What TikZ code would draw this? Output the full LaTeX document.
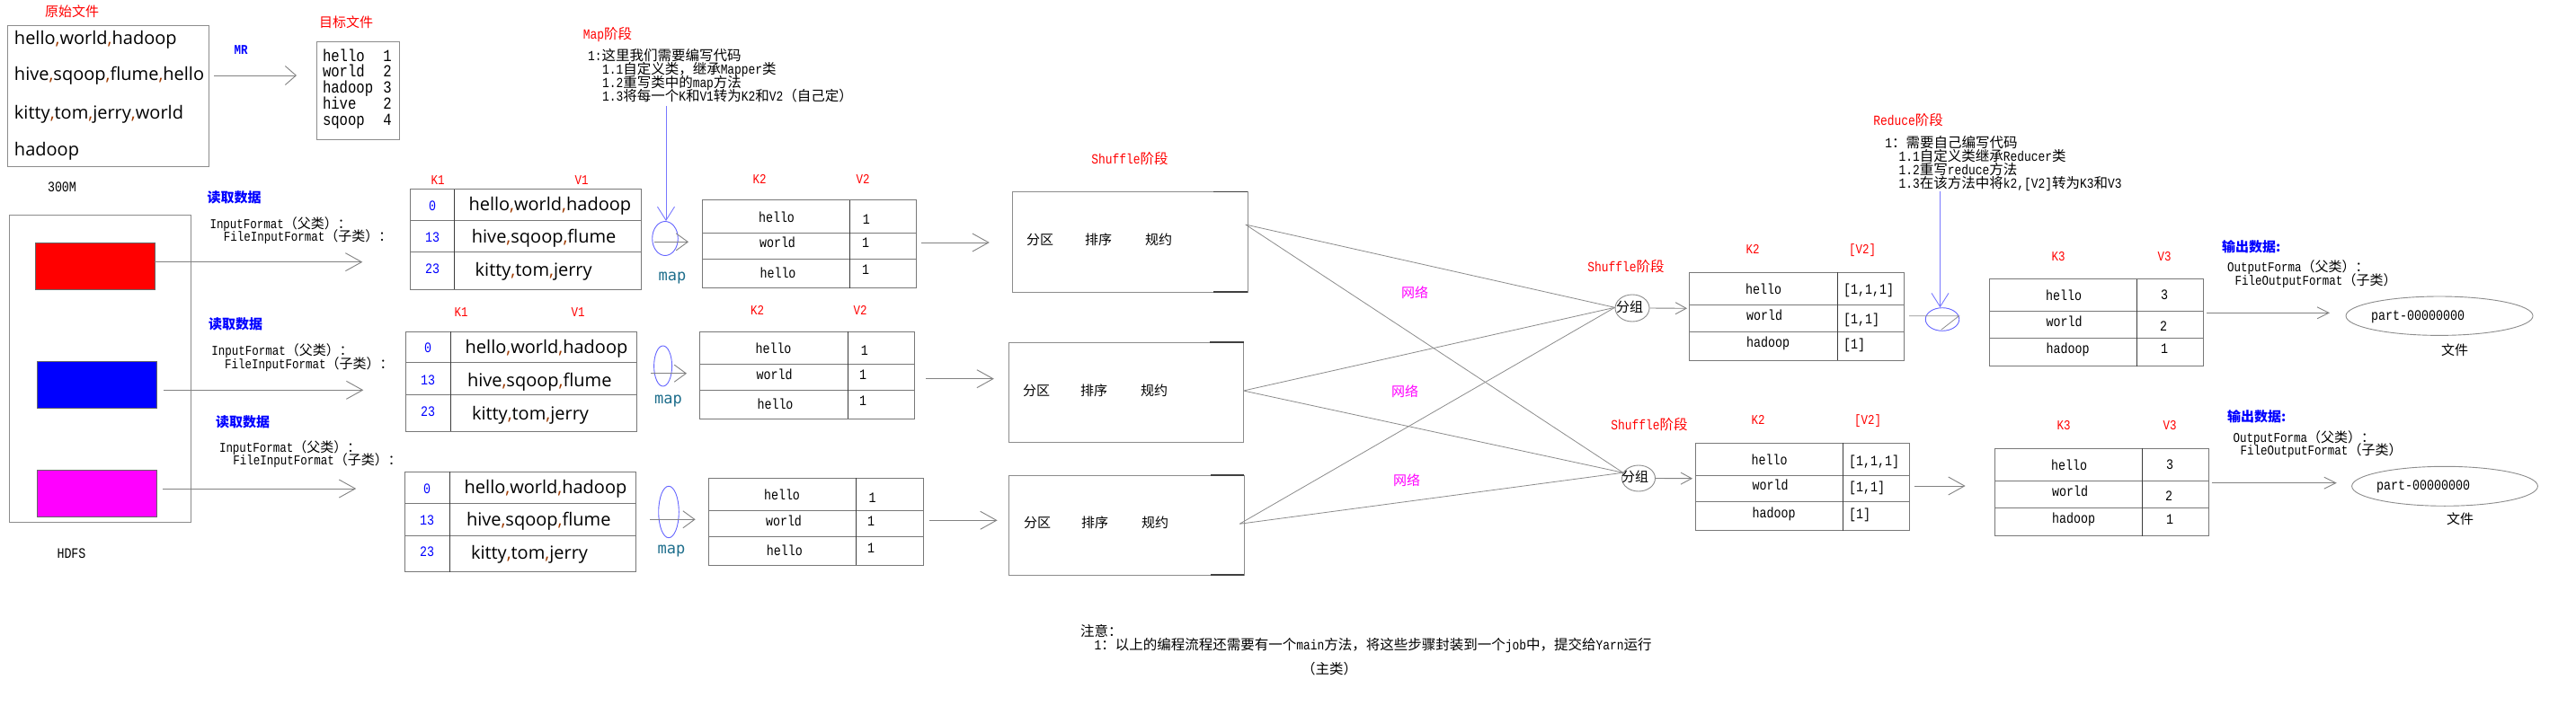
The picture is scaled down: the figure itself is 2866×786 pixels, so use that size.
\documentclass[tikz,border=0pt]{standalone}
\usepackage{fontspec}
\setmainfont{Noto Sans CJK SC}
\newfontfamily\mono[FakeStretch=0.833]{Liberation Mono}
\newfontfamily\sansf{Open Sans}
\newfontfamily\mapf{DejaVu Sans Mono}
\usetikzlibrary{arrows.meta,shapes.geometric,fit}
\definecolor{lred}{RGB}{255,0,0}
\definecolor{lblue}{RGB}{0,0,255}
\definecolor{lmag}{RGB}{255,0,255}
\definecolor{boxgray}{RGB}{140,140,140}
\definecolor{tabgray}{RGB}{120,120,120}
\definecolor{coldark}{RGB}{60,60,60}
\definecolor{arrgray}{RGB}{130,130,130}
\definecolor{netgray}{RGB}{140,140,140}
\definecolor{lineblue}{RGB}{120,120,255}
\definecolor{eblue}{RGB}{100,100,255}
\definecolor{mapteal}{RGB}{30,110,140}
\definecolor{commac}{RGB}{160,60,0}
\newcommand\m[1]{{\mono #1}}
\newcommand\cm{{\color{commac},}}
\newcommand\fs[1]{\fontsize{#1}{#1}\selectfont}
\newcommand\mystrut{\vrule width 0pt height 1em depth 0.3em\relax}
\newcommand\tabl[8]{%
  \node[tbox, fit={(#2,#3) (#4,#5)}] (#1) {};
  \draw[tsep] (#2,#7) -- (#4,#7) (#2,#8) -- (#4,#8);
  \draw[csep] (#6,#3) -- (#6,#5);
}
\tikzset{
  lbl/.style={inner sep=0pt, outer sep=0pt, execute at begin node=\mystrut},
  gbox/.style={draw=boxgray, line width=1pt, inner sep=0pt},
  tbox/.style={draw=tabgray, line width=1pt, inner sep=0pt},
  tsep/.style={draw=tabgray, line width=1pt},
  csep/.style={draw=coldark, line width=0.9pt},
  arrbig/.style={draw=arrgray, line width=0.9pt, -{Straight Barb[length=18pt,width=20pt]}},
  arrmr/.style={draw=arrgray, line width=0.9pt, -{Straight Barb[length=12pt,width=21pt]}},
  arrsm/.style={draw=arrgray, line width=0.9pt, -{Straight Barb[length=12pt,width=13pt]}},
  arrout/.style={draw=arrgray, line width=0.9pt, -{Straight Barb[length=13pt,width=13pt]}},
  arrmap/.style={draw=arrgray, line width=0.9pt, -{Straight Barb[length=13pt,width=19pt]}},
  netl/.style={draw=netgray, line width=0.8pt},
  bluel/.style={draw=lineblue, line width=0.9pt, -{Straight Barb[length=15pt,width=19pt]}},
  bell/.style={ellipse, draw=eblue, line width=0.9pt, inner sep=0pt},
  gell/.style={ellipse, draw=netgray, line width=0.9pt, inner sep=0pt},
  redl/.style={lbl, text=lred, font=\mono\fs{15}},
  cjk/.style={lbl, font=\fs{15}},
  wl/.style={lbl, anchor=west, font=\mono\fs{16}},
  vl/.style={lbl, font=\mono\fs{16}},
  darkseg/.style={draw=black!75, line width=1.2pt},
}
\begin{document}
\begin{tikzpicture}[x=1pt,y=-1pt]
\useasboundingbox[fill=white] (0,0) rectangle (2866,786);

% ---------------- source and target files ----------------
\node[cjk, text=lred] (tsrc) at (80,13) {原始文件};
\node[gbox, fit={(8,29) (232,186)}] (src) {};
\begin{scope}[every node/.append style={lbl, anchor=west, font=\sansf\fs{20}}]
\node (src1) at (16,43) {hello\cm world\cm hadoop};
\node (src2) at (16,83) {hive\cm sqoop\cm flume\cm hello};
\node (src3) at (16,126) {kitty\cm tom\cm jerry\cm world};
\node (src4) at (16,167) {hadoop};
\end{scope}
\node[lbl, text=lblue, font=\mono\bfseries\fs{15}] (mr) at (268,55) {MR};
\coordinate (mrs) at (238,84);
\coordinate (mre) at (330,84);
\draw[arrmr] (mrs) -- (mre);
\node[cjk, text=lred] (ttgt) at (385,25) {目标文件};
\node[gbox, fit={(352,47) (444,156)}] (tgt) {};
\begin{scope}[every node/.append style={lbl, font=\mono\fs{18.75}}]
\node[anchor=west] (tw1) at (359,61.7) {hello};
\node[anchor=west] (tw2) at (359,79.3) {world};
\node[anchor=west] (tw3) at (359,97.3) {hadoop};
\node[anchor=west] (tw4) at (359,115) {hive};
\node[anchor=west] (tw5) at (359,132.7) {sqoop};
\node (tn1) at (431,61.7) {1};
\node (tn2) at (431,79.3) {2};
\node (tn3) at (431,97.3) {3};
\node (tn4) at (431,115) {2};
\node (tn5) at (431,132.7) {4};
\end{scope}

% ---------------- HDFS ----------------
\node[vl] (m300) at (69,207.5) {300M};
\node[gbox, fit={(10.5,240) (212.4,581.7)}] (hdfs) {};
\node[draw=black!60, fill=lred, inner sep=0pt, fit={(39.2,270) (172.2,321.7)}] (blk1) {};
\node[draw=black!60, fill=lblue, inner sep=0pt, fit={(41.6,402.3) (173.7,454)}] (blk2) {};
\node[draw=black!60, fill=lmag, inner sep=0pt, fit={(41.6,523.3) (173.7,574.7)}] (blk3) {};
\node[vl] (thdfs) at (79.5,616) {HDFS};
\coordinate (h1s) at (172.2,291.7); \coordinate (h1e) at (403.3,291.7);
\coordinate (h2s) at (181.8,434.3); \coordinate (h2e) at (404.3,434.3);
\coordinate (h3s) at (180.9,544);   \coordinate (h3e) at (396.2,544);
\draw[arrbig] (h1s) -- (h1e);
\draw[arrbig] (h2s) -- (h2e);
\draw[arrbig] (h3s) -- (h3e);

\begin{scope}[every node/.append style={lbl, text=lblue, font=\bfseries\fs{15}}]
\node (rd1) at (260.5,220.5) {读取数据};
\node (rd2) at (262,361.7) {读取数据};
\node (rd3) at (270,470) {读取数据};
\end{scope}
\begin{scope}[every node/.append style={cjk, anchor=west}]
\node (if1) at (233.5,249) {\m{InputFormat}（父类）：};
\node (fif1) at (248.8,263.3) {\m{FileInputFormat}（子类）：};
\node (if2) at (235.4,390) {\m{InputFormat}（父类）：};
\node (fif2) at (250.2,405) {\m{FileInputFormat}（子类）：};
\node (if3) at (244,498.3) {\m{InputFormat}（父类）：};
\node (fif3) at (259.3,512.7) {\m{FileInputFormat}（子类）：};
\end{scope}

% ---------------- K1 V1 tables ----------------
\node[redl] (k1a) at (487,200) {K1};
\node[redl] (v1a) at (647,200) {V1};
\node[redl] (k1b) at (513,347.7) {K1};
\node[redl] (v1b) at (643,347.7) {V1};
\tabl{kv1}{456}{210.7}{713}{322.3}{505.7}{245.3}{281}
\tabl{kv2}{451.2}{369}{708.1}{480}{501}{403.3}{439.3}
\tabl{kv3}{450.7}{525}{707.2}{636.7}{500}{560.7}{596.7}
\begin{scope}[every node/.append style={vl, text=lblue}]
\node (kk11) at (481,229.3) {0};
\node (kk12) at (481,264) {13};
\node (kk13) at (481,299.3) {23};
\node (kk21) at (476,387.3) {0};
\node (kk22) at (476,423.3) {13};
\node (kk23) at (476,457.7) {23};
\node (kk31) at (475,544) {0};
\node (kk32) at (475,579.3) {13};
\node (kk33) at (475,614.3) {23};
\end{scope}
\begin{scope}[every node/.append style={lbl, anchor=west, font=\sansf\fs{20}}]
\node (kv11) at (521.5,227.3) {hello\cm world\cm hadoop};
\node (kv12) at (524.9,264) {hive\cm sqoop\cm flume};
\node (kv13) at (528.7,301) {kitty\cm tom\cm jerry};
\node (kv21) at (517.7,386.7) {hello\cm world\cm hadoop};
\node (kv22) at (520,423) {hive\cm sqoop\cm flume};
\node (kv23) at (525,460) {kitty\cm tom\cm jerry};
\node (kv31) at (516.7,542.7) {hello\cm world\cm hadoop};
\node (kv32) at (519,578) {hive\cm sqoop\cm flume};
\node (kv33) at (524,615) {kitty\cm tom\cm jerry};
\end{scope}

% ---------------- Map stage ----------------
\node[lbl, text=lred, font=\fs{15.5}] (tmap) at (676,38) {\m{Map}阶段};
\begin{scope}[every node/.append style={lbl, anchor=west, font=\fs{15.5}}]
\node (mp1) at (654,62) {\m{1:}这里我们需要编写代码};
\node (mp2) at (670,77) {\m{1.1}自定义类，继承\m{Mapper}类};
\node (mp3) at (670,92) {\m{1.2}重写类中的\m{map}方法};
\node (mp4) at (670,107) {\m{1.3}将每一个\m{K}和\m{V1}转为\m{K2}和\m{V2}（自己定）};
\end{scope}
\node[bell, minimum width=28.6, minimum height=38] (me1) at (740,265.5) {};
\node[bell, minimum width=20, minimum height=45] (me2) at (737.6,407.5) {};
\node[bell, minimum width=22.6, minimum height=57.4] (me3) at (744,570) {};
\coordinate (mpl) at (741,118);
\draw[bluel] (mpl) -- (mpl |- me1.north);
\coordinate (ma1s) at (727.7,269.3); \coordinate (ma1e) at (766,269.3);
\coordinate (ma2s) at (723.8,415.7); \coordinate (ma2e) at (764,415.7);
\coordinate (ma3s) at (723,578.3);   \coordinate (ma3e) at (773.6,578.3);
\draw[arrmap] (ma1s) -- (ma1e);
\draw[arrmap] (ma2s) -- (ma2e);
\draw[arrmap] (ma3s) -- (ma3e);
\begin{scope}[every node/.append style={lbl, text=mapteal, font=\mapf\fs{17}}]
\node (mtx1) at (748,307) {map};
\node (mtx2) at (743.5,444) {map};
\node (mtx3) at (747,611) {map};
\end{scope}

\node[redl] (k2a) at (845,199) {K2};
\node[redl] (v2a) at (960,199) {V2};
\node[redl] (k2b) at (842.5,345) {K2};
\node[redl] (v2b) at (957,345) {V2};
\tabl{mtab1}{781}{222.7}{1019.7}{320.7}{945.8}{259.3}{288.3}
\tabl{mtab2}{778.5}{369}{1017.4}{466}{943}{405.7}{434.3}
\tabl{mtab3}{788}{532.3}{1027}{629.3}{952.3}{568.3}{597.3}
\node[wl] (mw11) at (844,241.7) {hello};
\node[wl] (mw12) at (845,270) {world};
\node[wl] (mw13) at (845.5,304) {hello};
\node[wl] (mw21) at (840.5,387.7) {hello};
\node[wl] (mw22) at (841.7,416.7) {world};
\node[wl] (mw23) at (842.5,450) {hello};
\node[wl] (mw31) at (850,551) {hello};
\node[wl] (mw32) at (852,580) {world};
\node[wl] (mw33) at (852.8,613.3) {hello};
\node[vl] (mv11) at (963.8,244.3) {1};
\node[vl] (mv12) at (963,270) {1};
\node[vl] (mv13) at (963,300) {1};
\node[vl] (mv21) at (961.9,390) {1};
\node[vl] (mv22) at (960,416.7) {1};
\node[vl] (mv23) at (960,446) {1};
\node[vl] (mv31) at (970.7,554.3) {1};
\node[vl] (mv32) at (969,580) {1};
\node[vl] (mv33) at (969,610) {1};

% ---------------- Shuffle boxes ----------------
\node[lbl, text=lred, font=\fs{15.5}] (tsh) at (1257,177) {\m{Shuffle}阶段};
\node[gbox, fit={(1126.8,213.3) (1388,325)}] (sh1) {};
\node[gbox, fit={(1122.3,381) (1383.5,492.3)}] (sh2) {};
\node[gbox, fit={(1122.3,529) (1384.4,640)}] (sh3) {};
\draw[darkseg] (1350,213.3) -- (1388,213.3) (1350,325) -- (1388,325);
\draw[darkseg] (1345.5,381) -- (1383.5,381);
\draw[darkseg] (1346.7,529) -- (1384.4,529) (1346.7,640) -- (1384.4,640);
\coordinate (sa1s) at (1025.4,270);   \coordinate (sa1e) at (1100.8,270);
\coordinate (sa2s) at (1030,421.7);   \coordinate (sa2e) at (1105.8,421.7);
\coordinate (sa3s) at (1033.8,579.3); \coordinate (sa3e) at (1109.6,579.3);
\draw[arrbig] (sa1s) -- (sa1e);
\draw[arrbig] (sa2s) -- (sa2e);
\draw[arrbig] (sa3s) -- (sa3e);
\begin{scope}[every node/.append style={cjk}]
\node (p11) at (1157,267.3) {分区};
\node (p12) at (1222,267.3) {排序};
\node (p13) at (1289,267.3) {规约};
\node (p21) at (1153,435) {分区};
\node (p22) at (1217,435) {排序};
\node (p23) at (1284,435) {规约};
\node (p31) at (1154,582.7) {分区};
\node (p32) at (1218,582.7) {排序};
\node (p33) at (1285,582.7) {规约};
\end{scope}

% ---------------- network ----------------
\node[gell, minimum width=38, minimum height=30] (g1) at (1816,343) {};
\node[gell, minimum width=37, minimum height=29] (g2) at (1823,532.5) {};
\node[cjk] (g1t) at (1813,342) {分组};
\node[cjk] (g2t) at (1819,531.7) {分组};
\coordinate (n1) at (1385.7,250);
\coordinate (n2) at (1383.5,435);
\coordinate (n3) at (1379,583.3);
\draw[netl] (n1) -- (g1.178) (n1) -- (g2.160);
\draw[netl] (n2) -- (g1.178) (n2) -- (g2.160);
\draw[netl] (n3) -- (g1.178) (n3) -- (g2.160);
\begin{scope}[every node/.append style={cjk, text=lmag}]
\node (nw1) at (1574,326.7) {网络};
\node (nw2) at (1563,436.7) {网络};
\node (nw3) at (1565,535) {网络};
\end{scope}

% ---------------- grouped tables ----------------
\node[lbl, text=lred, font=\fs{15.5}] (tsh2) at (1809,297) {\m{Shuffle}阶段};
\node[lbl, text=lred, font=\fs{15.5}] (tsh3) at (1835,473) {\m{Shuffle}阶段};
\coordinate (ga1e) at (1877,343.3);
\coordinate (ga2e) at (1883,532.7);
\draw[arrsm] (g1.east) -- (ga1e);
\draw[arrsm] (g2.east) -- (ga2e);
\node[redl] (k2c) at (1950,277) {K2};
\node[redl] (v2c) at (2072,277) {[V2]};
\node[redl] (k2d) at (1956,467) {K2};
\node[redl] (v2d) at (2078,467) {[V2]};
\tabl{gtab1}{1879.5}{303.3}{2118.3}{401}{2044.2}{339.3}{369}
\tabl{gtab2}{1886}{493.3}{2124}{590.7}{2050.4}{529.3}{558.7}
\node[wl] (gw11) at (1942,322.3) {hello};
\node[wl] (gw12) at (1943,350.7) {world};
\node[wl] (gw13) at (1943,381) {hadoop};
\node[wl] (gw21) at (1948.7,511.7) {hello};
\node[wl] (gw22) at (1949.5,540) {world};
\node[wl] (gw23) at (1949.5,570.7) {hadoop};
\node[wl] (gv11) at (2051,322.3) {[1,1,1]};
\node[wl] (gv12) at (2051,355) {[1,1]};
\node[wl] (gv13) at (2051,383) {[1]};
\node[wl] (gv21) at (2057,513.3) {[1,1,1]};
\node[wl] (gv22) at (2057,541.7) {[1,1]};
\node[wl] (gv23) at (2057,572) {[1]};

% ---------------- Reduce ----------------
\node[lbl, text=lred, font=\fs{15.5}] (tred) at (2123,134) {\m{Reduce}阶段};
\begin{scope}[every node/.append style={lbl, anchor=west, font=\fs{15.5}}]
\node (rp1) at (2097.3,159.3) {\m{1}：需要自己编写代码};
\node (rp2) at (2112.5,174) {\m{1.1}自定义类继承\m{Reducer}类};
\node (rp3) at (2112.5,189) {\m{1.2}重写\m{reduce}方法};
\node (rp4) at (2112.5,204) {\m{1.3}在该方法中将\m{k2,[V2]}转为\m{K3}和\m{V3}};
\end{scope}
\node[bell, minimum width=37.5, minimum height=25.6] (rc) at (2161,355.5) {};
\coordinate (rl) at (2158.5,212.7);
\draw[bluel] (rl) -- (rl |- rc.north);
\coordinate (rcs) at (2124,351.7);
\coordinate (rce) at (2179.5,351.7);
\draw[netl] (rcs) -- (rce) -- ++(-19.7,15.4);
\coordinate (ra2s) at (2129.5,541);
\coordinate (ra2e) at (2186.6,541);
\draw[arrbig] (ra2s) -- (ra2e);

\node[redl] (k3a) at (2290,285) {K3};
\node[redl] (v3a) at (2408,285) {V3};
\node[redl] (k3b) at (2296,473) {K3};
\node[redl] (v3b) at (2414,473) {V3};
\tabl{rtab1}{2213}{310.7}{2451.4}{407.7}{2377.4}{346.7}{376}
\tabl{rtab2}{2219.4}{499.3}{2457.3}{596.7}{2383.3}{535.7}{565}
\node[wl] (rw11) at (2276,329.3) {hello};
\node[wl] (rw12) at (2276.5,357.7) {world};
\node[wl] (rw13) at (2276.5,388.3) {hadoop};
\node[wl] (rw21) at (2282,518.3) {hello};
\node[wl] (rw22) at (2283,546.7) {world};
\node[wl] (rw23) at (2283,576.7) {hadoop};
\node[vl] (rv11) at (2408,327.7) {3};
\node[vl] (rv12) at (2407,363.3) {2};
\node[vl] (rv13) at (2408,388.3) {1};
\node[vl] (rv21) at (2414,516.7) {3};
\node[vl] (rv22) at (2413,552.3) {2};
\node[vl] (rv23) at (2414,578.3) {1};

% ---------------- output ----------------
\node[lbl, anchor=west, text=lblue, font=\bfseries\fs{15}] (out1) at (2472,275) {输出数据:};
\node[lbl, anchor=west, text=lblue, font=\bfseries\fs{15}] (out2) at (2478,464) {输出数据:};
\begin{scope}[every node/.append style={cjk, anchor=west}]
\node (of1) at (2478,297.7) {\m{OutputForma}（父类）：};
\node (fof1) at (2486.5,312.3) {\m{FileOutputFormat}（子类）};
\node (of2) at (2484.7,487.3) {\m{OutputForma}（父类）：};
\node (fof2) at (2492.5,501.7) {\m{FileOutputFormat}（子类）};
\end{scope}
\node[gell, minimum width=208, minimum height=43.4] (pf1) at (2714,351.7) {};
\node[gell, minimum width=206.8, minimum height=44] (pf2) at (2720,541.3) {};
\node[vl] (pt1) at (2690,350.7) {part-00000000};
\node[vl] (pt2) at (2696,540) {part-00000000};
\node[cjk] (wj1) at (2731,390) {文件};
\node[cjk] (wj2) at (2737,578) {文件};
\coordinate (oa1s) at (2455,348.3);   \coordinate (oa1e) at (2592,348.3);
\coordinate (oa2s) at (2460.5,537.7); \coordinate (oa2e) at (2599.8,537.7);
\draw[arrout] (oa1s) -- (oa1e);
\draw[arrout] (oa2s) -- (oa2e);

% ---------------- note ----------------
\node[cjk, anchor=west, font=\fs{15.5}] (note1) at (1202,703.3) {注意：};
\node[cjk, anchor=west, font=\fs{15.5}] (note2) at (1217.7,718.3) {\m{1}：以上的编程流程还需要有一个\m{main}方法，将这些步骤封装到一个\m{job}中，提交给\m{Yarn}运行};
\node[cjk, font=\fs{15.5}] (note3) at (1479,745) {（主类）};
\end{tikzpicture}
\end{document}
